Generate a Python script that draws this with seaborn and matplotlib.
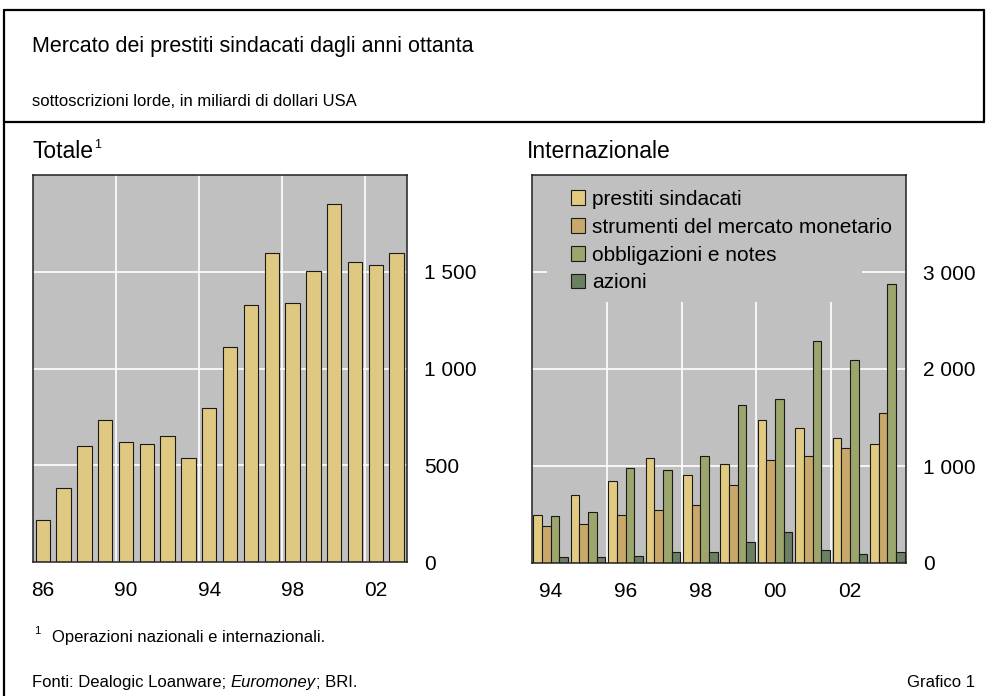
import matplotlib
matplotlib.use("Agg")
import matplotlib.pyplot as plt
import matplotlib.patches as mpatches
from matplotlib.lines import Line2D
from matplotlib.ticker import FuncFormatter, FixedLocator
import pandas as pd
import seaborn as sns

# Totale: prestiti sindacati, 1986-2003
anni_tot = ["1986", "1987", "1988", "1989", "1990", "1991", "1992", "1993", "1994",
            "1995", "1996", "1997", "1998", "1999", "2000", "2001", "2002", "2003"]
totale = [218, 381, 598, 732, 619, 608, 649, 536, 794,
          1110, 1328, 1595, 1337, 1502, 1852, 1552, 1533, 1595]
tick_tot = ["86", "90", "94", "98", "02"]

# Internazionale, 1994-2003
anni_int = ["1994", "1995", "1996", "1997", "1998", "1999", "2000", "2001", "2002", "2003"]
prestiti = [500, 703, 847, 1083, 905, 1025, 1471, 1388, 1286, 1227]
strumenti = [380, 401, 500, 542, 600, 806, 1063, 1104, 1186, 1550]
obbligazioni = [480, 521, 984, 963, 1104, 1628, 1690, 2293, 2091, 2880]
azioni = [62, 58, 75, 117, 117, 216, 319, 137, 96, 117]
tick_int = ["94", "96", "98", "00", "02"]

serie = ["prestiti sindacati", "strumenti del mercato monetario",
         "obbligazioni e notes", "azioni"]
colori = ["#E2CB80", "#C9A96B", "#9BA56C", "#6B7F63"]
col_tot = "#DFC982"
sfondo = "#C0C0C0"

sns.set_theme(style="white")
plt.rcParams["font.family"] = ["Liberation Sans", "DejaVu Sans"]
plt.rcParams["text.color"] = "black"

W, H = 988, 696
fig = plt.figure(figsize=(W / 100, H / 100), dpi=100)


def fx(px):
    return px / W


def fy(py):
    return 1 - py / H


def migliaia(v, pos):
    return f"{int(v):,}".replace(",", " ")


def stile_assi(ax, yticks, ymax, minor_x):
    ax.set_facecolor(sfondo)
    ax.set_axisbelow(True)
    ax.set_ylim(0, ymax)
    ax.set_yticks(yticks)
    ax.yaxis.set_major_formatter(FuncFormatter(migliaia))
    ax.yaxis.tick_right()
    ax.xaxis.set_minor_locator(FixedLocator(minor_x))
    ax.grid(False)
    ax.yaxis.grid(True, color="white", lw=1.2)
    ax.xaxis.grid(True, which="minor", color="white", lw=1.2)
    ax.tick_params(axis="both", which="both", length=0, labelsize=15, colors="black")
    ax.tick_params(axis="y", pad=12)
    ax.tick_params(axis="x", pad=14)
    ax.set_xlabel("")
    ax.set_ylabel("")
    for s in ax.spines.values():
        s.set_visible(True)
        s.set_color("#202020")
        s.set_linewidth(1.1)


# --- pannello sinistro
ax1 = fig.add_axes([fx(33), fy(562), fx(374), 387 / H])
sns.barplot(x=anni_tot, y=totale, color=col_tot, saturation=1, width=0.69,
            edgecolor="#1a1a1a", linewidth=0.8, ax=ax1)
stile_assi(ax1, [0, 500, 1000, 1500], 2000, [3.5, 7.5, 11.5, 15.5])
ax1.set_xlim(-0.47, 17.5)
ax1.set_xticks([0, 4, 8, 12, 16])
ax1.set_xticklabels(tick_tot)

# --- pannello destro
df = pd.DataFrame({
    "anno": anni_int * 4,
    "serie": [s for s in serie for _ in anni_int],
    "valore": prestiti + strumenti + obbligazioni + azioni,
})
ax2 = fig.add_axes([fx(532), fy(563), fx(374), 388 / H])
sns.barplot(data=df, x="anno", y="valore", hue="serie", hue_order=serie,
            palette=colori, saturation=1, width=0.92, gap=0,
            edgecolor="#1a1a1a", linewidth=0.8, legend=False, ax=ax2)
stile_assi(ax2, [0, 1000, 2000, 3000], 4000, [1.5, 3.5, 5.5, 7.5])
ax2.set_xlim(-0.5, 9.5)
ax2.set_xticks([0, 2, 4, 6, 8])
ax2.set_xticklabels(tick_int)

# fondo grigio dietro la legenda (copre la griglia, sotto le barre)
ax2.add_patch(mpatches.Rectangle((0.040, 0.673), 0.842, 0.327, transform=ax2.transAxes,
                                 facecolor=sfondo, edgecolor="none", zorder=0.8))
handles = [mpatches.Patch(facecolor=c, edgecolor="#1a1a1a", lw=0.8, label=s)
           for s, c in zip(serie, colori)]
leg = ax2.legend(handles=handles, loc="upper left", bbox_to_anchor=(0.064, 1.0),
                 borderaxespad=0, borderpad=0.7, fontsize=15, frameon=False,
                 handlelength=0.7, handleheight=0.7, handletextpad=0.35,
                 labelspacing=0.43)

# --- testi
fig.text(fx(32), fy(52), "Mercato dei prestiti sindacati dagli anni ottanta",
         fontsize=15.5, va="baseline", ha="left")
fig.text(fx(32), fy(106), "sottoscrizioni lorde, in miliardi di dollari USA",
         fontsize=12, va="baseline", ha="left")
t_tot = fig.text(fx(32), fy(158), "Totale", fontsize=16.5, va="baseline", ha="left")
fig.text(fx(527), fy(158), "Internazionale", fontsize=16.5, va="baseline", ha="left")

fig.canvas.draw()
r = fig.canvas.get_renderer()
bb = t_tot.get_window_extent(renderer=r)
fig.text(bb.x1 / W + fx(1), fy(148), "1", fontsize=9, va="baseline", ha="left")

fig.text(fx(34), fy(634), "1", fontsize=8, va="baseline", ha="left")
fig.text(fx(52), fy(642), "Operazioni nazionali e internazionali.",
         fontsize=12, va="baseline", ha="left")

y_fonti = fy(687)
t1 = fig.text(fx(32), y_fonti, "Fonti: Dealogic Loanware; ", fontsize=12,
              va="baseline", ha="left")
fig.canvas.draw()
b1 = t1.get_window_extent(renderer=r)
t2 = fig.text(b1.x1 / W, y_fonti, "Euromoney", fontsize=12, style="italic",
              va="baseline", ha="left")
fig.canvas.draw()
b2 = t2.get_window_extent(renderer=r)
fig.text(b2.x1 / W, y_fonti, "; BRI.", fontsize=12, va="baseline", ha="left")
fig.text(fx(975), y_fonti, "Grafico 1", fontsize=12, va="baseline", ha="right")

# --- cornice
lc = "black"
fig.add_artist(Line2D([fx(4), fx(4)], [fy(10), 0], color=lc, lw=1.6))
fig.add_artist(Line2D([fx(4), fx(984)], [fy(10), fy(10)], color=lc, lw=1.6))
fig.add_artist(Line2D([fx(984), fx(984)], [fy(10), fy(122)], color=lc, lw=1.6))
fig.add_artist(Line2D([fx(4), fx(984)], [fy(122), fy(122)], color=lc, lw=1.6))

fig.savefig("out.png", dpi=100, facecolor="white")
